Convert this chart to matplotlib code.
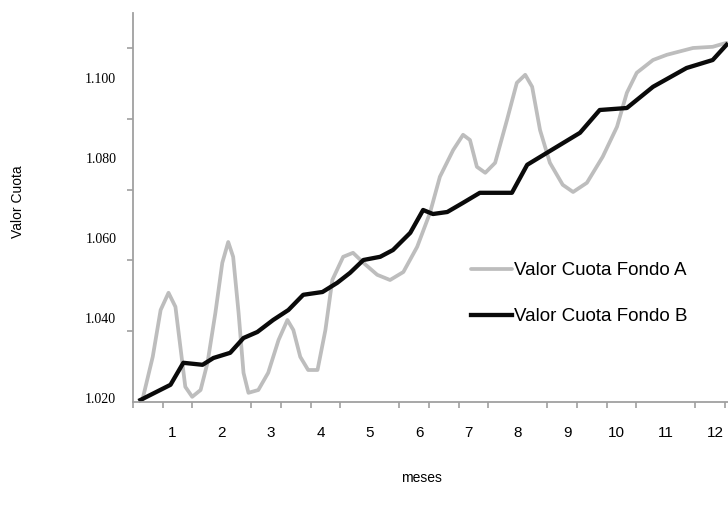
import matplotlib
matplotlib.use("Agg")
import matplotlib.pyplot as plt
import numpy as np

# Fondo A (gray) - months, values
a_months = [0.39, 0.60, 0.76, 0.92, 1.06, 1.16, 1.26, 1.40, 1.57, 1.71, 1.87, 2.01, 2.13, 2.23,
            2.34, 2.44, 2.54, 2.74, 2.94, 3.15, 3.33, 3.45, 3.59, 3.75, 3.94, 4.10, 4.24, 4.46,
            4.66, 4.87, 5.15, 5.41, 5.68, 5.96, 6.22, 6.42, 6.69, 6.89, 7.03, 7.17, 7.34, 7.54,
            7.78, 7.98, 8.15, 8.29, 8.45, 8.65, 8.91, 9.12, 9.40, 9.72, 10.01, 10.21, 10.41,
            10.74, 11.02, 11.55, 11.95, 12.23]
a_values = [1.0195, 1.0303, 1.0420, 1.0463, 1.0428, 1.0328, 1.0228, 1.0203, 1.0220, 1.0288, 1.0413,
            1.0538, 1.0590, 1.0553, 1.0413, 1.0263, 1.0213, 1.0220, 1.0263, 1.0345, 1.0395, 1.0370,
            1.0303, 1.0270, 1.0270, 1.0370, 1.0495, 1.0553, 1.0563, 1.0538, 1.0508, 1.0495, 1.0515,
            1.0578, 1.0663, 1.0753, 1.0820, 1.0858, 1.0845, 1.0778, 1.0763, 1.0788, 1.0895, 1.0988,
            1.1008, 1.0978, 1.0870, 1.0788, 1.0733, 1.0715, 1.0738, 1.0803, 1.0878, 1.0963, 1.1013,
            1.1045, 1.1058, 1.1075, 1.1078, 1.1088]

# Fondo B (black)
b_months = [0.35, 0.96, 1.22, 1.61, 1.83, 2.17, 2.44, 2.72, 3.04, 3.35, 3.65, 4.04, 4.34, 4.60,
            4.87, 5.21, 5.47, 5.82, 6.08, 6.28, 6.57, 6.89, 7.23, 7.88, 8.19, 8.59, 9.26,
            9.66, 10.21, 10.74, 11.42, 11.95, 12.23]
b_values = [1.0195, 1.0233, 1.0288, 1.0283, 1.0300, 1.0313, 1.0350, 1.0365, 1.0395, 1.0420, 1.0458,
            1.0465, 1.0488, 1.0513, 1.0545, 1.0553, 1.0570, 1.0613, 1.0670, 1.0660, 1.0665, 1.0688,
            1.0713, 1.0713, 1.0783, 1.0813, 1.0863, 1.0920, 1.0925, 1.0978, 1.1025, 1.1045, 1.1083]

month_labels = ["1", "2", "3", "4", "5", "6", "7", "8", "9", "10", "11", "12"]
y_labels = ["1.020", "1.040", "1.060", "1.080", "1.100"]
y_label_values = [1.020, 1.040, 1.060, 1.080, 1.100]
series_names = ["Valor Cuota Fondo A", "Valor Cuota Fondo B"]

fig = plt.figure(figsize=(7.28, 5.13), dpi=100)
ax = fig.add_axes([133 / 728, (513 - 402) / 513, (728 - 133) / 728, (402 - 13) / 513])

ax.plot(a_months, a_values, color="#bdbdbd", lw=2.7, solid_joinstyle="round",
        solid_capstyle="round", label=series_names[0], clip_on=False)
ax.plot(b_months, b_values, color="#0a0a0a", lw=3.1, solid_joinstyle="round",
        label=series_names[1], clip_on=False)

ax.set_xlim(0.2, 12.26)
ax.set_ylim(1.019, 1.019 + 389 / 4000)

ax.set_xticks(range(1, 13))
ax.set_xticklabels(month_labels, fontsize=11, family="Liberation Sans")
ax.set_xticks(np.arange(0.2, 12.3, 0.6), minor=True)
ax.set_yticks(y_label_values)
ax.set_yticklabels(y_labels, fontsize=10, family="Liberation Serif")
ax.set_yticks(1.019 + np.arange(1, 6) * 0.0177, minor=True)

ax.tick_params(axis="both", which="major", length=0)
ax.tick_params(axis="x", which="major", pad=17)
ax.tick_params(axis="y", which="major", pad=12)
ax.tick_params(axis="both", which="minor", length=4, color="#a0a0a0", width=1.2)

for s in ["top", "right"]:
    ax.spines[s].set_visible(False)
for s in ["left", "bottom"]:
    ax.spines[s].set_color("#a0a0a0")
    ax.spines[s].set_linewidth(1.3)

fig.text(18 / 728, 1 - 202 / 513, "Valor Cuota", rotation=90, ha="center", va="center",
         fontsize=10, family="Liberation Sans")
fig.text(421 / 728, 1 - 478 / 513, "meses", ha="center", va="center",
         fontsize=10, family="Liberation Sans")

leg = ax.legend(loc="upper left", bbox_to_anchor=((471 - 133) / 595, (402 - 262) / 389),
                frameon=False, handlelength=2.2, handletextpad=0.1, labelspacing=1.55,
                prop={"family": "Liberation Sans", "size": 13.5},
                borderaxespad=0, borderpad=0)

fig.savefig("out.png", dpi=100)
